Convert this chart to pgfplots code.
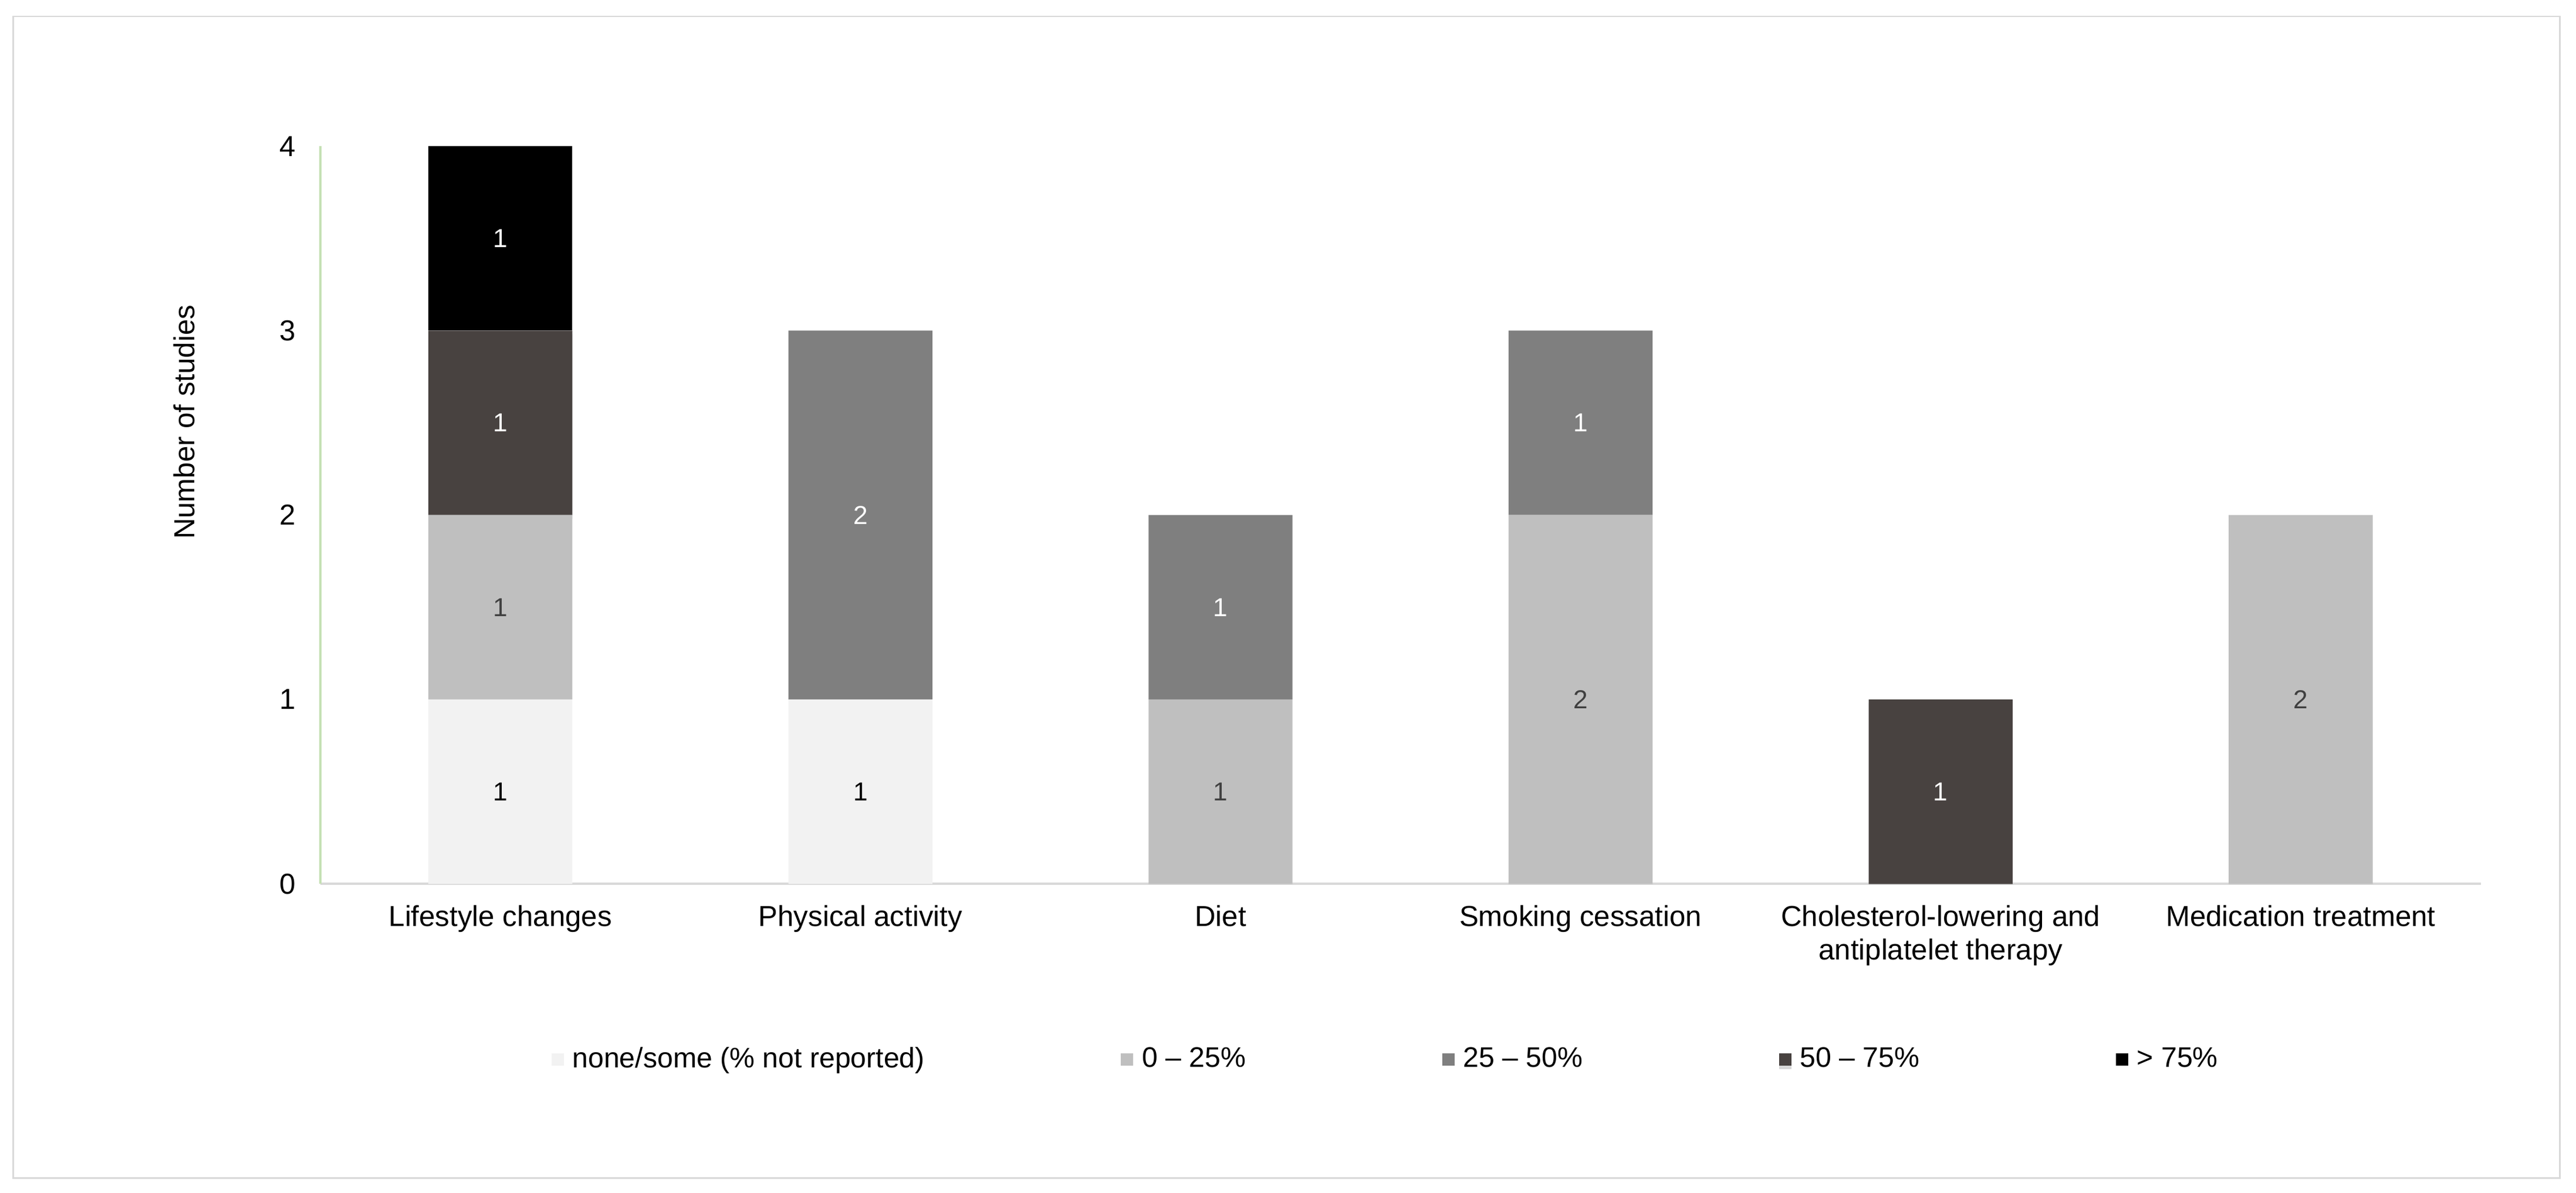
\documentclass[border=0pt]{standalone}
\usepackage{pgfplots}
\pgfplotsset{compat=1.18}
\usepackage{fontspec}
\setmainfont{Liberation Sans}
\usetikzlibrary{shadows}

\definecolor{cNone}{HTML}{F2F2F2}
\definecolor{cLow}{HTML}{BFBFBF}
\definecolor{cMid}{HTML}{7F7F7F}
\definecolor{cHigh}{RGB}{72,66,64}
\definecolor{cTop}{HTML}{000000}
\definecolor{yline}{HTML}{C5E0B4}
\definecolor{xline}{HTML}{D9D9D9}
\definecolor{frame}{HTML}{D9D9D9}
\definecolor{lowtext}{HTML}{404040}

\pgfplotsset{
  common/.style={
    scale only axis,
    width=26.3cm, height=8.98cm,
    at={(0,0)}, anchor=south west,
    xmin=-0.5, xmax=5.5, ymin=0, ymax=4,
  },
}

\begin{document}
\begin{tikzpicture}
\begin{axis}[common,
    ybar stacked, bar width=0.4,
    axis x line*=bottom, axis y line*=left,
    x axis line style={xline, line width=0.8pt},
    y axis line style={yline, line width=0.8pt},
    major tick length=0pt,
    xtick={0,...,5},
    xticklabels={Lifestyle changes, Physical activity, Diet, Smoking cessation,
      {Cholesterol-lowering and\\antiplatelet therapy}, Medication treatment},
    xticklabel style={align=center, font=\fontsize{10}{11.5}\selectfont, yshift=-4pt},
    ytick={0,1,2,3,4},
    yticklabel style={font=\fontsize{10}{12}\selectfont, xshift=-5pt},
    /pgf/number format/assume math mode=true,
    ylabel={Number of studies},
    every axis y label/.style={at={(axis description cs:-0.0631,0.626)}, rotate=90, anchor=center,
      font=\fontsize{10}{12}\selectfont},
    legend columns=5,
    legend style={at={(axis description cs:0.494,-0.238)}, anchor=center, draw=none,
      font=\fontsize{9.8}{11}\selectfont,
      /tikz/every even column/.append style={column sep=2.32cm},
      /tikz/every odd column/.append style={column sep=1pt}},
    legend image code/.code={\fill[#1] (0cm,-0.075cm) rectangle (0.15cm,0.075cm);},
  ]
  % none/some (% not reported)
  \addplot[fill=cNone, draw=none] coordinates {(0,1) (1,1) (2,0) (3,0) (4,0) (5,0)};
  % 0-25%
  \addplot[fill=cLow, draw=none] coordinates {(0,1) (1,0) (2,1) (3,2) (4,0) (5,2)};
  % 25-50%
  \addplot[fill=cMid, draw=none] coordinates {(0,0) (1,2) (2,1) (3,1) (4,0) (5,0)};
  % 50-75%, drawn with a soft shadow as in the original
  \addplot[fill=cHigh, draw=none,
    drop shadow={shadow xshift=0pt, shadow yshift=-1.2pt, opacity=0.3}]
    coordinates {(0,1) (1,0) (2,0) (3,0) (4,1) (5,0)};
  % >75%
  \addplot[fill=cTop, draw=none] coordinates {(0,1) (1,0) (2,0) (3,0) (4,0) (5,0)};
  \legend{none/some (\% not reported), 0 – 25\%, 25 – 50\%, 50 – 75\%, > 75\%}
\end{axis}

% segment value labels
\begin{axis}[common, hide axis,
    nodes near coords, point meta=explicit symbolic,
    every node near coord/.append style={anchor=center, font=\fontsize{9}{10}\selectfont},
  ]
  \addplot[draw=none, mark=none, nodes near coords style={text=black}]
    coordinates {(0,0.5)[1] (1,0.5)[1]};
  \addplot[draw=none, mark=none, nodes near coords style={text=lowtext}]
    coordinates {(0,1.5)[1] (2,0.5)[1] (3,1)[2] (5,1)[2]};
  \addplot[draw=none, mark=none, nodes near coords style={text=white}]
    coordinates {(0,2.5)[1] (0,3.5)[1] (1,2)[2] (2,1.5)[1] (3,2.5)[1] (4,0.5)[1]};
\end{axis}

\draw[frame, line width=0.6pt] (-3.74,-3.58) rectangle (27.26,10.56);
\useasboundingbox (-3.9,-3.76) rectangle (27.46,10.76);
\end{tikzpicture}
\end{document}
